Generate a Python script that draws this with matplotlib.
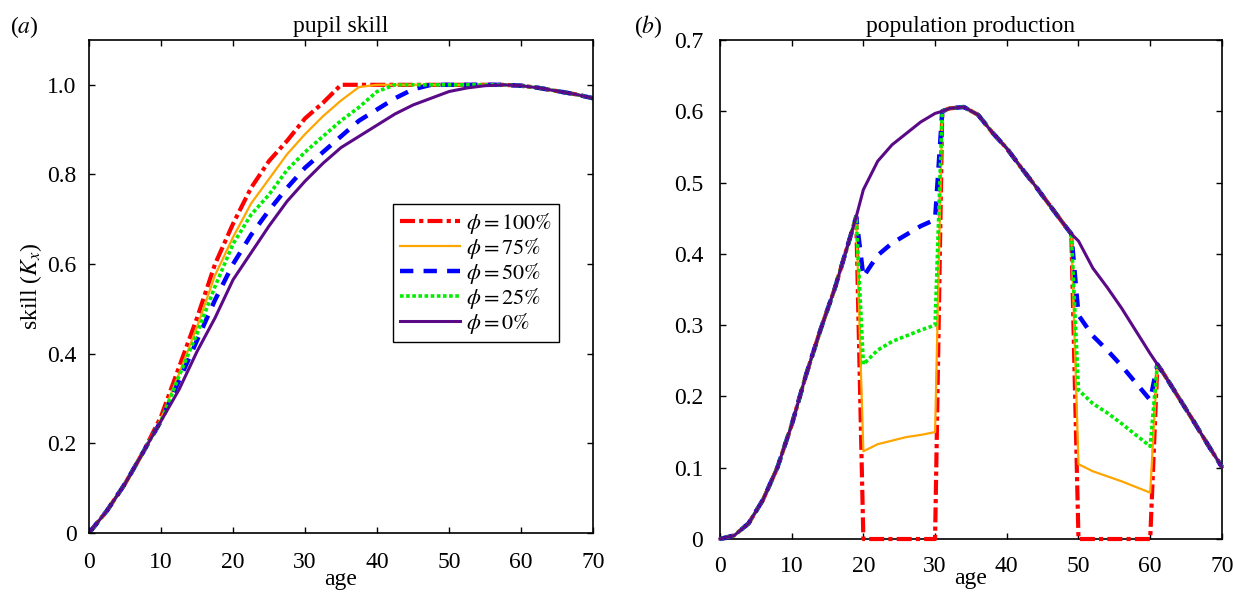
import matplotlib
matplotlib.use("Agg")
import matplotlib.pyplot as plt

plt.rcParams['font.family'] = ['Liberation Serif', 'DejaVu Serif']
plt.rcParams['mathtext.fontset'] = 'stix'

# panel (a): pupil skill vs age
skill_age = [0, 2.5, 5, 7.5, 10, 12.5, 15, 17.5, 20, 22.5, 25, 27.5, 30, 32.5, 35,
             37.5, 40, 42.5, 45, 47.5, 50, 52.5, 55, 57.5, 60, 62.5, 65, 67.5, 70]
skill_100 = [0, 0.05, 0.11, 0.18, 0.26, 0.37, 0.48, 0.60, 0.69, 0.77, 0.83, 0.875, 0.925, 0.96, 1.0,
             1.0, 1.0, 1.0, 1.0, 1.0, 1.0, 1.0, 1.0, 1.0, 0.998, 0.993, 0.986, 0.979, 0.97]
skill_75 = [0, 0.05, 0.11, 0.18, 0.255, 0.355, 0.46, 0.575, 0.66, 0.735, 0.79, 0.845, 0.89, 0.93, 0.965,
            0.995, 1.0, 1.0, 1.0, 1.0, 1.0, 1.0, 1.0, 1.0, 0.998, 0.993, 0.986, 0.979, 0.97]
skill_50 = [0, 0.05, 0.11, 0.18, 0.25, 0.34, 0.43, 0.52, 0.60, 0.665, 0.72, 0.77, 0.815, 0.85, 0.885,
            0.92, 0.945, 0.97, 0.99, 1.0, 1.0, 1.0, 1.0, 1.0, 0.998, 0.993, 0.986, 0.979, 0.97]
skill_25 = [0, 0.05, 0.11, 0.18, 0.25, 0.35, 0.445, 0.55, 0.645, 0.71, 0.755, 0.81, 0.85, 0.885, 0.92,
            0.95, 0.985, 1.0, 1.0, 1.0, 1.0, 1.0, 1.0, 1.0, 0.998, 0.993, 0.986, 0.979, 0.97]
skill_0 = [0, 0.05, 0.11, 0.18, 0.25, 0.32, 0.405, 0.48, 0.565, 0.625, 0.685, 0.74, 0.785, 0.825, 0.86,
           0.885, 0.91, 0.935, 0.955, 0.97, 0.985, 0.993, 0.998, 1.0, 0.998, 0.993, 0.986, 0.979, 0.97]

# panel (b): population production vs age
prod_age = [0, 2, 4, 6, 8, 10, 12, 14, 16, 18, 19, 20, 22, 24, 26, 28, 30, 31, 32, 34,
            36, 38, 40, 42, 44, 46, 48, 49, 50, 52, 54, 56, 58, 60, 61, 62, 64, 66, 68, 70]
prod_0 = [0, 0.005, 0.022, 0.055, 0.10, 0.16, 0.23, 0.293, 0.351, 0.418, 0.452, 0.49, 0.53, 0.553,
          0.569, 0.585, 0.597, 0.60, 0.604, 0.606, 0.595, 0.57, 0.548, 0.521, 0.495, 0.468, 0.441,
          0.428, 0.418, 0.38, 0.353, 0.324, 0.292, 0.26, 0.245, 0.23, 0.198, 0.166, 0.133, 0.101]
prod_25 = [0, 0.005, 0.022, 0.055, 0.10, 0.16, 0.23, 0.293, 0.351, 0.418, 0.452, 0.245, 0.265, 0.277,
           0.285, 0.293, 0.30, 0.60, 0.604, 0.606, 0.595, 0.57, 0.548, 0.521, 0.495, 0.468, 0.441,
           0.428, 0.209, 0.19, 0.177, 0.162, 0.146, 0.13, 0.245, 0.23, 0.198, 0.166, 0.133, 0.101]
prod_50 = [0, 0.005, 0.022, 0.055, 0.10, 0.16, 0.23, 0.293, 0.351, 0.418, 0.452, 0.368, 0.398, 0.415,
           0.427, 0.439, 0.448, 0.60, 0.604, 0.606, 0.595, 0.57, 0.548, 0.521, 0.495, 0.468, 0.441,
           0.428, 0.314, 0.285, 0.265, 0.243, 0.219, 0.195, 0.245, 0.23, 0.198, 0.166, 0.133, 0.101]
prod_75 = [0, 0.005, 0.022, 0.055, 0.10, 0.16, 0.23, 0.293, 0.351, 0.418, 0.452, 0.123, 0.133, 0.138,
           0.143, 0.146, 0.15, 0.60, 0.604, 0.606, 0.595, 0.57, 0.548, 0.521, 0.495, 0.468, 0.441,
           0.428, 0.105, 0.095, 0.088, 0.081, 0.073, 0.065, 0.245, 0.23, 0.198, 0.166, 0.133, 0.101]
prod_100 = [0, 0.005, 0.022, 0.055, 0.10, 0.16, 0.23, 0.293, 0.351, 0.418, 0.452, 0, 0, 0,
            0, 0, 0, 0.60, 0.604, 0.606, 0.595, 0.57, 0.548, 0.521, 0.495, 0.468, 0.441,
            0.428, 0, 0, 0, 0, 0, 0, 0.245, 0.23, 0.198, 0.166, 0.133, 0.101]

labels = [r'$\phi = 100\%$', r'$\phi = 75\%$', r'$\phi = 50\%$', r'$\phi = 25\%$', r'$\phi = 0\%$']

# styles: red dash-dot, orange solid, blue dashed, green dotted, purple solid
styles = [
    dict(color='#ff0000', lw=3.0, ls=(0, (3.6, 1.0, 1.0, 1.0))),
    dict(color='#ffa500', lw=1.6, ls='-'),
    dict(color='#0000ff', lw=3.2, ls=(0, (3.0, 2.3))),
    dict(color='#00ee00', lw=2.6, ls=(0, (1.0, 0.7))),
    dict(color='#5a0a87', lw=2.2, ls='-'),
]

fig = plt.figure(figsize=(12.33, 5.95), dpi=100)
ax1 = fig.add_axes([0.0722, 0.1042, 0.4088, 0.8286])
ax2 = fig.add_axes([0.5839, 0.0941, 0.4071, 0.8387])

skill_series = [skill_100, skill_75, skill_50, skill_25, skill_0]
for vals, st, lab in zip(skill_series, styles, labels):
    ax1.plot(skill_age, vals, label=lab, **st)

# purple drawn last so it sits on top; lines over the spines like the original
prod_series = [prod_100, prod_75, prod_50, prod_25, prod_0]
for vals, st in zip(prod_series, styles):
    ax2.plot(prod_age, vals, clip_on=False, zorder=3, **st)

ax1.set_xlim(0, 70)
ax1.set_ylim(0, 1.1)
ax1.set_yticks([0, 0.2, 0.4, 0.6, 0.8, 1.0])
ax1.set_yticklabels(['0', '0.2', '0.4', '0.6', '0.8', '1.0'])
ax1.set_ylabel(r'skill ($K_x$)', fontsize=17, labelpad=2)

ax2.set_xlim(0, 70)
ax2.set_ylim(0, 0.7)
ax2.set_yticks([0, 0.1, 0.2, 0.3, 0.4, 0.5, 0.6, 0.7])
ax2.set_yticklabels(['0', '0.1', '0.2', '0.3', '0.4', '0.5', '0.6', '0.7'])

for ax, title, xpad, ypad, lpad in [(ax1, 'pupil skill', 14, 9, -3),
                                    (ax2, 'population production', 12, 12, -6)]:
    ax.set_xticks(range(0, 71, 10))
    ax.set_xlabel('age', fontsize=17, labelpad=lpad)
    ax.set_title(title, fontsize=17, pad=6)
    ax.tick_params(direction='in', top=True, right=True, length=4, width=1,
                   labelsize=17)
    ax.tick_params(axis='x', pad=xpad)
    ax.tick_params(axis='y', pad=ypad)
    for sp in ax.spines.values():
        sp.set_linewidth(1.2)

leg = ax1.legend(loc='upper left', bbox_to_anchor=(0.603, 0.667), fontsize=16,
                 frameon=True, fancybox=False, edgecolor='black', framealpha=1,
                 handlelength=2.7, handletextpad=0.3, borderpad=0.3, labelspacing=0.0,
                 borderaxespad=0)
leg.get_frame().set_linewidth(1.0)

fig.text(0.008, 0.945, r'($a$)', fontsize=17)
fig.text(0.514, 0.945, r'($b$)', fontsize=17)

fig.savefig('out.png', dpi=100)
